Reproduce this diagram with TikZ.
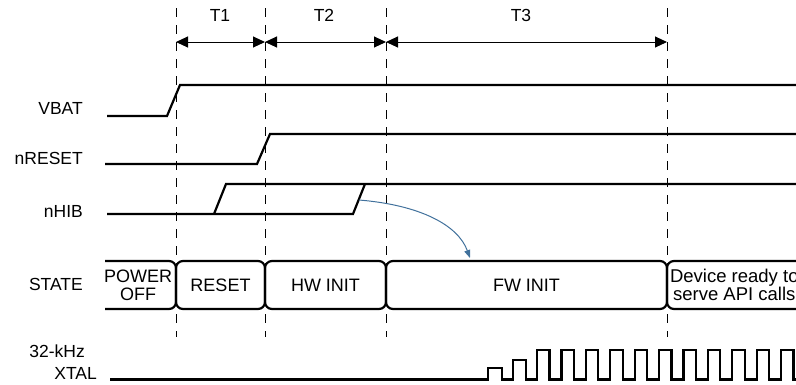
\documentclass[tikz,border=0pt]{standalone}
\usepackage{fontspec}
\setmainfont{Liberation Sans}
\usetikzlibrary{arrows.meta}
\definecolor{arrowblue}{RGB}{65,113,156}
\begin{document}
\begin{tikzpicture}[x=1pt,y=-1pt,
  sig/.style={line width=2.2pt, line join=miter},
  gridline/.style={line width=1pt, dash pattern=on 9pt off 8pt},
  dim/.style={line width=1pt, {Triangle[length=12pt,width=11pt]}-{Triangle[length=12pt,width=11pt]}},
  lbl/.style={font=\fontsize{17.5}{18}\selectfont, inner sep=0pt},
  boxline/.style={line width=2.2pt, rounded corners=7pt},
  stxt/.style={font=\fontsize{18}{18}\selectfont, align=center, inner sep=0pt},
  stbox/.style={draw, line width=2.2pt, rounded corners=7pt, minimum height=48pt, inner sep=0pt, font=\fontsize{18}{18}\selectfont, align=center},
  bluearrow/.style={draw=arrowblue, line width=1pt, -{Triangle[length=8pt,width=6pt]}}
  ]
\useasboundingbox (0,0) rectangle (796,384);
\clip (0,0) rectangle (796,384);

% vertical dashed time markers
\foreach \n/\x in {g1/176,g2/265,g3/386,g4/667} {
  \coordinate (\n t) at (\x,8);
  \coordinate (\n b) at (\x,337);
  \draw[gridline] (\n t) -- (\n b);
}

% interval arrows
\coordinate (a1) at (176,42);
\coordinate (a2) at (265,42);
\coordinate (a3) at (386,42);
\coordinate (a4) at (667,42);
\draw[dim] (a1) -- (a2);
\draw[dim] (a2) -- (a3);
\draw[dim] (a3) -- (a4);
\node[lbl] (t1) at (220,15) {T1};
\node[lbl] (t2) at (324,15) {T2};
\node[lbl] (t3) at (521,15) {T3};

% signal labels
\node[lbl, anchor=east] (vbat) at (83,108) {VBAT};
\node[lbl, anchor=east] (nreset) at (83,158) {nRESET};
\node[lbl, anchor=east] (nhib) at (83,211) {nHIB};
\node[lbl, anchor=east] (state) at (83,284) {STATE};
\node[lbl, anchor=east] (xtala) at (85,351.5) {32-kHz};
\node[lbl, anchor=east] (xtalb) at (97,373) {XTAL};

% waveforms
\draw[sig] (107,116) -- (167,116) -- (180,85) -- (800,85);
\draw[sig] (105,164) -- (257,164) -- (270,134) -- (800,134);
\draw[sig] (107,214) -- (353,214) -- (365,184);
\draw[sig] (214,214) -- (226,184) -- (800,184);

% nHIB -> FW INIT
\coordinate (hs) at (359,200);
\coordinate (he) at (470,258);
\draw[bluearrow] (hs) .. controls (420,205) and (458,225) .. (he);

% state boxes
\draw[boxline] (105,261) -- (176,261) -- (176,309) -- (105,309);
\node[stxt] (poweroff) at (138,285) {POWER\\OFF};
\node[stbox, minimum width=89pt] (reset) at (220.5,285) {RESET};
\node[stbox, minimum width=121pt] (hwinit) at (325.5,285) {HW INIT};
\node[stbox, minimum width=281pt] (fwinit) at (526.5,285) {FW INIT};
\draw[boxline] (820,261) -- (667,261) -- (667,309) -- (820,309);
\node[stxt, font=\fontsize{18.5}{18}\selectfont] (ready) at (734.3,285) {Device ready to\\serve API calls};

% 32-kHz XTAL
\draw[sig] (110,379.5) -- (488,379.5) -- (488,368) -- (502,368) -- (502,379.5)
  -- (513,379.5) -- (513,360) -- (526,360) -- (526,379.5) -- (537,379.5)
  \foreach \k in {0,...,10} { -- ++(0,-29.5) -- ++(12.4,0) -- ++(0,29.5) -- ++(12,0) };
\end{tikzpicture}
\end{document}
